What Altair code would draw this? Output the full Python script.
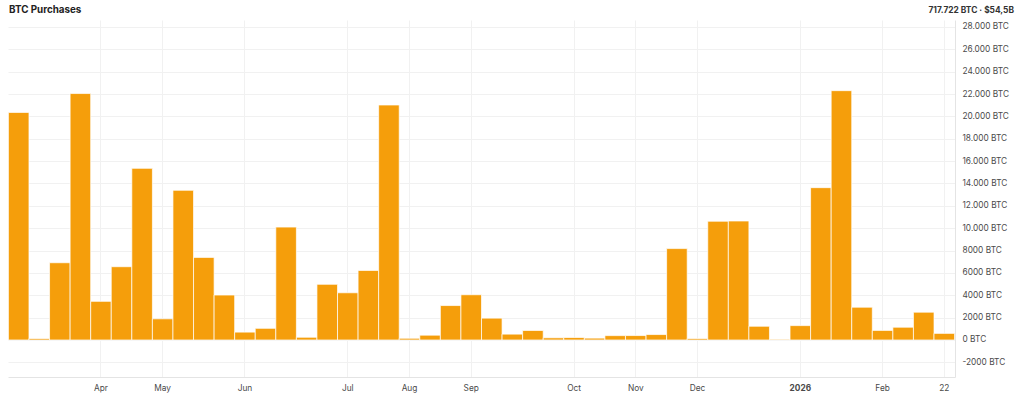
import altair as alt
import pandas as pd

# ---- data ----
weeks = [
    "2025-02-24", "2025-03-17", "2025-03-24", "2025-03-31",
    "2025-04-14", "2025-04-21", "2025-04-28",
    "2025-05-05", "2025-05-12", "2025-05-19", "2025-05-26",
    "2025-06-02", "2025-06-09", "2025-06-16", "2025-06-23", "2025-06-30",
    "2025-07-14", "2025-07-21", "2025-07-29",
    "2025-08-11", "2025-08-18", "2025-08-25",
    "2025-09-02", "2025-09-08", "2025-09-15", "2025-09-22", "2025-09-29",
    "2025-10-13", "2025-10-20", "2025-10-27",
    "2025-11-03", "2025-11-10", "2025-11-17",
    "2025-12-01", "2025-12-08", "2025-12-15", "2025-12-22", "2025-12-29",
    "2026-01-05", "2026-01-12", "2026-01-20", "2026-01-26",
    "2026-02-02", "2026-02-09", "2026-02-17", "2026-02-22",
]
btc = [
    20356, 130, 6911, 22048,
    3459, 6556, 15355,
    1895, 13390, 7390, 4020,
    705, 1045, 10100, 245, 4980,
    4225, 6220, 21021,
    155, 430, 3081,
    4048, 1955, 525, 850, 196,
    220, 168, 390,
    397, 487, 8178,
    130, 10624, 10645, 1229, 60,
    1287, 13627, 22305, 2932,
    855, 1142, 2486, 592,
]
tick_weeks = ["2025-04-14", "2025-05-05", "2025-06-02", "2025-07-14", "2025-08-11",
              "2025-09-02", "2025-10-13", "2025-11-03", "2025-12-01", "2026-01-05",
              "2026-02-02", "2026-02-22"]
tick_labels = ["Apr", "May", "Jun", "Jul", "Aug", "Sep", "Oct", "Nov", "Dec", "2026",
               "Feb", "22"]
y_ticks = list(range(-2000, 28001, 2000))
title_text = "BTC Purchases"
summary_text = "717.722 BTC · $54,5B"

df = pd.DataFrame({"week": weeks, "btc": btc})

label_expr = "''"
for w, l in reversed(list(zip(tick_weeks, tick_labels))):
    label_expr = f"datum.value == '{w}' ? '{l}' : ({label_expr})"

FONT = "Inter"
BAR = "#F59E0B"

x_axis = alt.Axis(
    title=None, values=tick_weeks, labelExpr=label_expr, labelAngle=0,
    labelFont=FONT, labelFontSize=8.3, labelColor="#4a4a4a", labelPadding=6,
    labelFontWeight={"condition": {"test": "datum.value == '2026-01-05'", "value": "bold"}, "value": "normal"},
    ticks=False, domain=True, domainColor="#e4e4e4", grid=True, gridColor="#f1f1f1",
    bandPosition=0.5,
)
y_axis = alt.Axis(
    title=None, orient="right", values=y_ticks,
    labelExpr="(abs(datum.value) >= 10000 ? replace(format(datum.value, ','), ',', '.') : ('' + datum.value)) + ' BTC'",
    labelFont=FONT, labelFontSize=8.3, labelColor="#4a4a4a", labelPadding=7,
    ticks=False, domain=True, domainColor="#e4e4e4", grid=True, gridColor="#f1f1f1",
)

bars = alt.Chart(df).mark_bar(color=BAR, stroke="#ffffff", strokeWidth=1, strokeOpacity=0.7).encode(
    x=alt.X("week:O", sort=None, scale=alt.Scale(paddingInner=0, paddingOuter=0.02), axis=x_axis),
    y=alt.Y("btc:Q", scale=alt.Scale(domain=[-3310, 28626], nice=False), axis=y_axis),
)

title = alt.Chart(pd.DataFrame({"t": [title_text]})).mark_text(
    align="left", baseline="middle", font=FONT, fontSize=9.8, fontWeight="bold", color="#222222"
).encode(x=alt.value(1), y=alt.value(-10.5), text="t:N")

summary = alt.Chart(pd.DataFrame({"t": [summary_text]})).mark_text(
    align="right", baseline="middle", font=FONT, fontSize=8.4, fontWeight="bold", color="#333333"
).encode(x=alt.value(1006), y=alt.value(-10.5), text="t:N")

chart = alt.layer(bars, title, summary).properties(
    width=947, height=357,
    autosize=alt.AutoSizeParams(type="none"),
    padding={"left": 8, "top": 20, "right": 69, "bottom": 21},
    background="white",
).configure_view(stroke=None)

chart.save("out.html", embed_options={"renderer": "svg", "actions": False})
